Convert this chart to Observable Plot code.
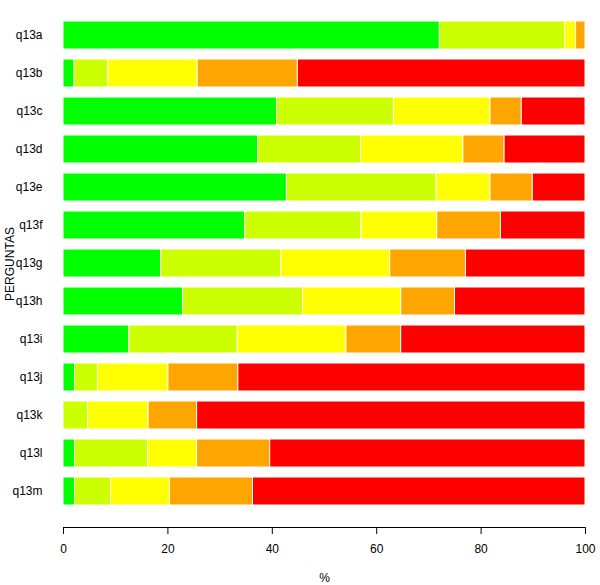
<!DOCTYPE html>
<html>
<head>
<meta charset="utf-8">
<script src="https://cdn.jsdelivr.net/npm/d3@7"></script>
<script src="https://cdn.jsdelivr.net/npm/@observablehq/plot@0.6"></script>
<style>
  html, body { margin: 0; padding: 0; background: #fff; }
  #chart svg { display: block; }
</style>
</head>
<body>
<div id="chart"></div>
<script>
const categories = ["q13a","q13b","q13c","q13d","q13e","q13f","q13g","q13h","q13i","q13j","q13k","q13l","q13m"];
const levels = ["1","2","3","4","5"];
const levelColors = ["#00ff00","#ccff00","#ffff00","#ffa500","#ff0000"];
const level1 = [72.1, 2.1, 40.9, 37.3, 42.8, 34.8, 18.7, 22.9, 12.6, 2.2, 0.0, 2.2, 2.2];
const level2 = [24.0, 6.5, 22.4, 19.7, 28.7, 22.3, 23.0, 23.0, 20.8, 4.4, 4.7, 14.0, 6.9];
const level3 = [2.1, 17.1, 18.5, 19.6, 10.3, 14.5, 20.9, 18.8, 20.8, 13.5, 11.6, 9.4, 11.3];
const level4 = [1.8, 19.2, 6.0, 7.9, 8.1, 12.2, 14.5, 10.3, 10.5, 13.4, 9.3, 14.0, 15.9];
const level5 = [0.0, 55.1, 12.2, 15.5, 10.1, 16.2, 22.9, 25.0, 35.3, 66.5, 74.4, 60.4, 63.7];
const xTicks = [0, 20, 40, 60, 80, 100];

const series = [level1, level2, level3, level4, level5];
const rows = [];
categories.forEach((c, i) => {
  levels.forEach((l, j) => {
    rows.push({pergunta: c, nivel: l, valor: series[j][i]});
  });
});

const chart = Plot.plot({
  width: 600,
  height: 585,
  marginLeft: 63,
  marginRight: 15,
  marginTop: 0,
  marginBottom: 58,
  style: {fontFamily: "'Liberation Sans', Arial, sans-serif", fontSize: "12px", color: "#000", background: "#fff"},
  x: {domain: [0, 100]},
  y: {domain: categories, range: [9.7, 516.3], padding: 0.27},
  color: {domain: levels, range: levelColors},
  marks: [
    Plot.barX(rows, {x: "valor", y: "pergunta", fill: "nivel", stroke: "white", strokeWidth: 1, order: levels}),
    Plot.frame({anchor: "bottom", stroke: "#000"}),
    Plot.axisX({ticks: xTicks, tickSize: 7, tickPadding: 10, fontSize: 12, label: "%", labelAnchor: "center", labelOffset: 54, labelArrow: "none"}),
    Plot.axisY({tickSize: 0, tickPadding: 21, fontSize: 12, label: "PERGUNTAS", labelAnchor: "center", labelOffset: 58, labelArrow: "none"})
  ]
});
document.getElementById("chart").appendChild(chart);
</script>
</body>
</html>
